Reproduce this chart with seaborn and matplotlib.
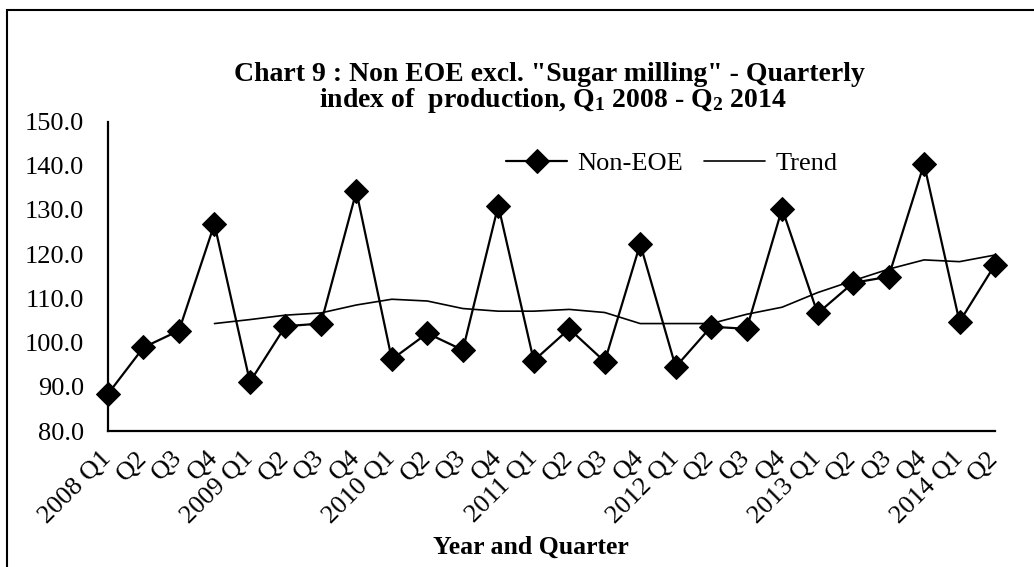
import numpy as np
import pandas as pd
import matplotlib
matplotlib.use("Agg")
import matplotlib.pyplot as plt
from matplotlib.patches import Rectangle
import seaborn as sns

# ---- data ----
quarter_labels = ["2008 Q1", "Q2", "Q3", "Q4",
                  "2009 Q1", "Q2", "Q3", "Q4",
                  "2010 Q1", "Q2", "Q3", "Q4",
                  "2011 Q1", "Q2", "Q3", "Q4",
                  "2012 Q1", "Q2", "Q3", "Q4",
                  "2013 Q1", "Q2", "Q3", "Q4",
                  "2014 Q1", "Q2"]
non_eoe = [88.4, 98.9, 102.7, 126.8, 91.1, 103.7, 104.3, 134.2, 96.2, 102.1,
           98.3, 131.0, 95.9, 103.1, 95.7, 122.3, 94.5, 103.6, 103.1, 130.3,
           106.6, 113.5, 114.9, 140.4, 104.7, 117.6]
trend = [np.nan, np.nan, np.nan, 104.3, 105.2, 106.2, 106.7, 108.5, 109.8, 109.4,
         107.7, 107.1, 107.1, 107.5, 106.8, 104.3, 104.3, 104.3, 106.4, 108.0,
         111.3, 114.0, 116.6, 118.7, 118.3, 119.8]
y_ticks = [80, 90, 100, 110, 120, 130, 140, 150]

title_line1 = 'Chart 9 : Non EOE excl. "Sugar milling" - Quarterly'
title_line2 = r'index of  production, Q$_\mathbf{1}$ 2008 - Q$_\mathbf{2}$ 2014'
x_label = "Year and Quarter"

# ---- style ----
sns.set_style("white")
plt.rcParams["font.family"] = ["Liberation Serif", "DejaVu Serif"]
plt.rcParams["text.color"] = "black"
plt.rcParams["axes.labelcolor"] = "black"
plt.rcParams["xtick.color"] = "black"
plt.rcParams["ytick.color"] = "black"
plt.rcParams["mathtext.fontset"] = "custom"
plt.rcParams["mathtext.rm"] = "Liberation Serif:bold"
plt.rcParams["mathtext.bf"] = "Liberation Serif:bold"
plt.rcParams["mathtext.it"] = "Liberation Serif:bold"

W, H = 1034, 567
fig = plt.figure(figsize=(W / 100, H / 100), dpi=100)
ax = fig.add_axes([108 / W, 1 - 431 / H, (995 - 108) / W, (431 - 121.5) / H])

idx = np.arange(len(quarter_labels))
df = pd.DataFrame({"idx": idx, "Non-EOE": non_eoe, "Trend": trend})

sns.lineplot(data=df, x="idx", y="Non-EOE", ax=ax, color="black", linewidth=1.6,
             marker="D", markersize=12.5, markeredgecolor="black",
             label="Non-EOE", clip_on=False)
sns.lineplot(data=df.dropna(), x="idx", y="Trend", ax=ax, color="black",
             linewidth=1.2, label="Trend", clip_on=False)

ax.set_xlim(0, len(quarter_labels) - 1)
ax.set_ylim(80, 150)
ax.set_yticks(y_ticks)
ax.set_yticklabels([f"{v:.1f}" for v in y_ticks], fontsize=19)
ax.set_xticks(idx)
ax.set_xticklabels(quarter_labels, fontsize=19, rotation=45, ha="right",
                   va="center", rotation_mode="anchor")
ax.tick_params(axis="x", direction="out", length=5, width=1.5, pad=12, colors="black")
ax.tick_params(axis="y", direction="out", length=7, width=1.5, pad=10, colors="black")
ax.set_xlabel("")
ax.set_ylabel("")

for s in ["top", "right"]:
    ax.spines[s].set_visible(False)
for s in ["left", "bottom"]:
    ax.spines[s].set_color("black")
    ax.spines[s].set_linewidth(1.6)

leg = ax.legend(loc="center", bbox_to_anchor=(672 / W, 1 - 163 / H),
                bbox_transform=fig.transFigure, ncol=2, frameon=False,
                fontsize=19, handlelength=2.3, handletextpad=0.4,
                columnspacing=0.8)
for t in leg.get_texts():
    t.set_color("black")

fig.text(549 / W, 1 - 81 / H, title_line1, ha="center", va="baseline",
         fontsize=20, fontweight="bold", color="black")
fig.text(553 / W, 1 - 107 / H, title_line2, ha="center", va="baseline",
         fontsize=20, fontweight="bold", color="black")
fig.text(531 / W, 1 - 554 / H, x_label, ha="center", va="baseline",
         fontsize=18.5, fontweight="bold", color="black")

# outer chart frame
fig.patches.append(Rectangle((7 / W, -0.1), 1.2, (1 - 10 / H) + 0.1,
                             transform=fig.transFigure, fill=False,
                             edgecolor="black", linewidth=1.5))

fig.savefig("out.png", dpi=100)
